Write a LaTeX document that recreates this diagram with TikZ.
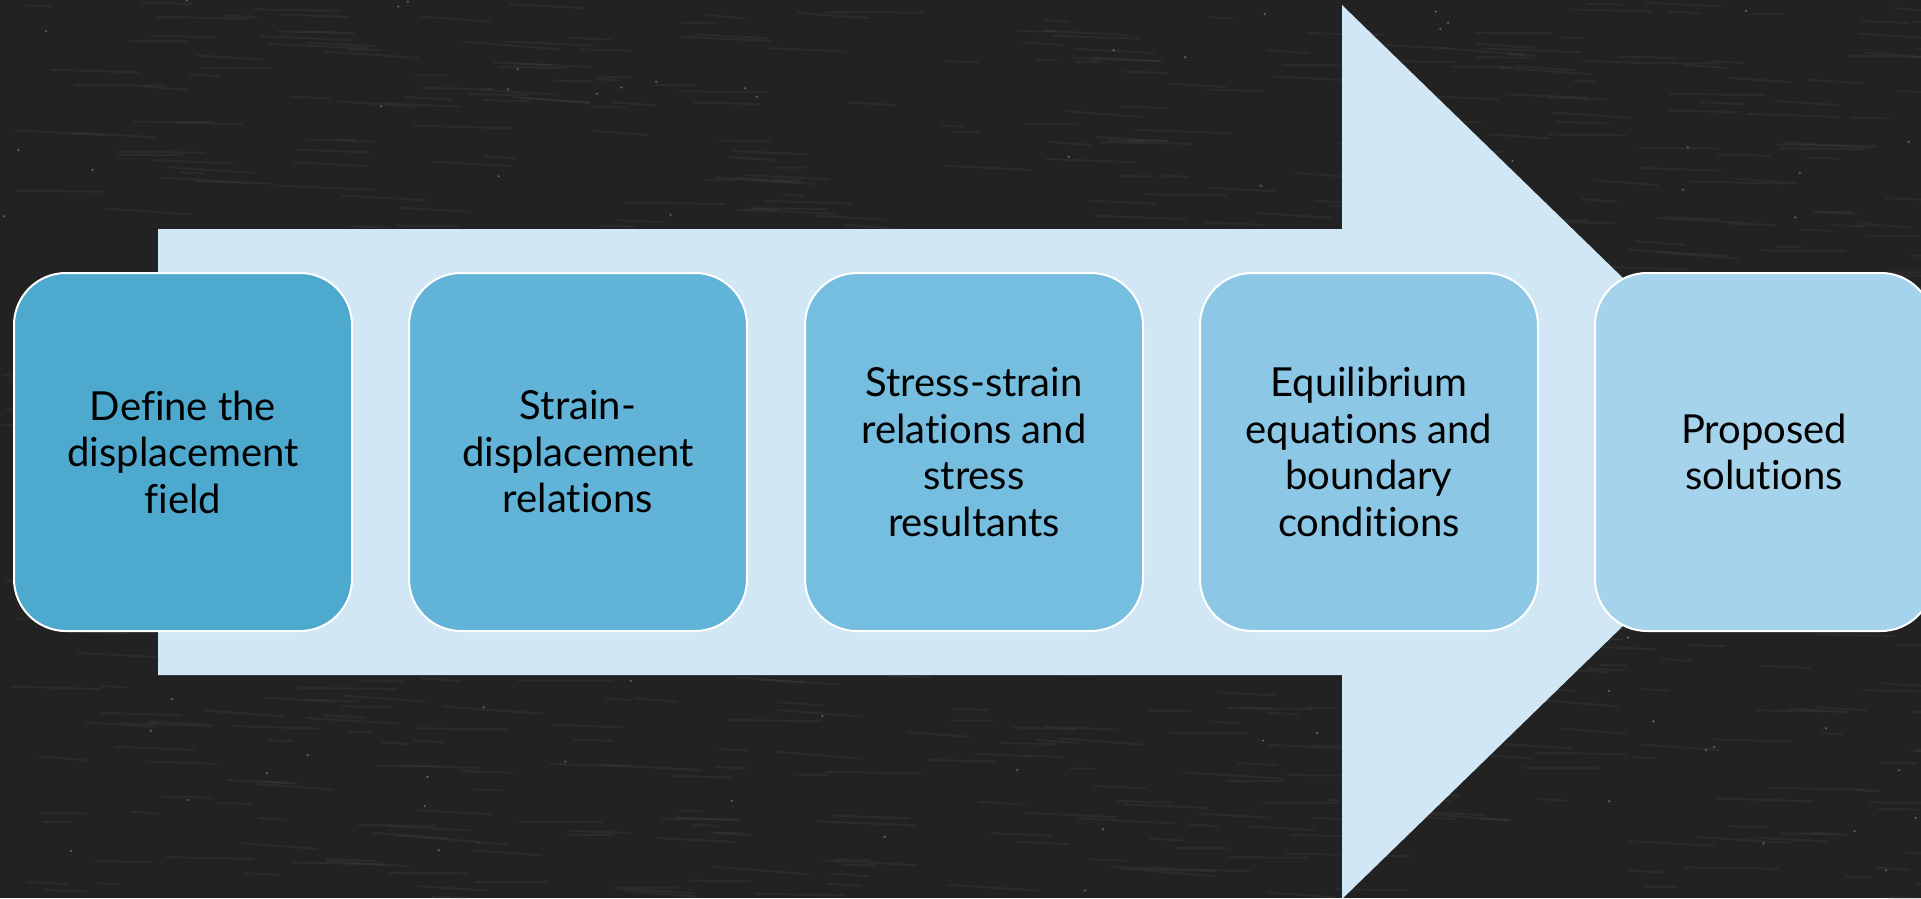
\documentclass[tikz,border=0pt]{standalone}
\usepackage{fontspec}
\setmainfont{Lato}[Ligatures={NoCommon}]
\definecolor{board}{HTML}{222222}
\definecolor{streak}{HTML}{555555}
\definecolor{arrowfill}{HTML}{D2E7F5}
\definecolor{cA}{HTML}{4EA9CE}
\definecolor{cB}{HTML}{62B3D8}
\definecolor{cC}{HTML}{76BEE0}
\definecolor{cD}{HTML}{8CC8E6}
\definecolor{cE}{HTML}{A5D3EC}
\tikzset{
  stepbox/.style={draw=white, line width=2pt, rounded corners=52pt,
    minimum width=338pt, minimum height=358pt, align=center,
    text=black, inner sep=0pt,
    font=\fontsize{40}{46.5}\selectfont},
}
\begin{document}
\begin{tikzpicture}[x=1pt,y=-1pt]
  \useasboundingbox (0,0) rectangle (1921,898);
  \clip (0,0) rectangle (1921,898);
  % chalkboard background with faint chalk streaks
  \fill[board] (0,0) rectangle (1921,898);
  \pgfmathsetseed{42}
  \foreach \i in {1,...,900}{
    \pgfmathsetmacro{\px}{rnd*1921}
    \pgfmathsetmacro{\py}{rnd*898}
    \pgfmathsetmacro{\len}{20+rnd*80}
    \draw[streak, opacity=0.18, line width=2pt, line cap=round] (\px,\py) -- ++(\len,0.08*\len*rnd);
  }
  \foreach \i in {1,...,120}{
    \pgfmathsetmacro{\px}{rnd*1921}
    \pgfmathsetmacro{\py}{rnd*898}
    \fill[white, opacity=0.3] (\px,\py) circle (1.2pt);
  }
  % large block arrow behind the steps
  \fill[arrowfill] (158,229) -- (1342,229) -- (1342,5) -- (1802,452)
    -- (1342,899) -- (1342,675) -- (158,675) -- cycle;
  % process steps
  \node[stepbox, fill=cA] (s1) at (183,452) {Define the\\displacement\\field};
  \node[stepbox, fill=cB] (s2) at (578,452) {Strain-\\displacement\\relations};
  \node[stepbox, fill=cC] (s3) at (974,452) {Stress-strain\\relations and\\stress\\resultants};
  \node[stepbox, fill=cD] (s4) at (1369,452) {Equilibrium\\equations and\\boundary\\conditions};
  \node[stepbox, fill=cE] (s5) at (1764,452) {Proposed\\solutions};
\end{tikzpicture}
\end{document}
